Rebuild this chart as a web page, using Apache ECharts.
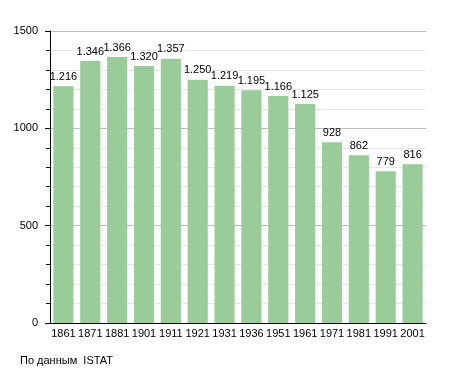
<!DOCTYPE html>
<html><head><meta charset="utf-8">
<script src="https://cdn.jsdelivr.net/npm/echarts@6/dist/echarts.min.js"></script>
<style>html,body{margin:0;padding:0;background:#fff}#c{width:455px;height:373px}</style>
</head><body><div id="c"></div>
<script>
const categories = ['1861','1871','1881','1901','1911','1921','1931','1936','1951','1961','1971','1981','1991','2001'];
const population = [1216,1346,1366,1320,1357,1250,1219,1195,1166,1125,928,862,779,816];
const yTicks = [0,500,1000,1500];
const fmt = v => { const s = String(v); return s.length > 3 ? s.slice(0, s.length-3) + '.' + s.slice(-3) : s; };
const chart = echarts.init(document.getElementById('c'));
chart.setOption({
  animation: false,
  textStyle: {fontFamily: 'Liberation Sans, Arial, sans-serif'},
  grid: {left: 50, right: 29, top: 31, bottom: 50},
  xAxis: {
    type: 'category', data: categories,
    axisLine: {lineStyle: {color: '#000', width: 1}},
    axisTick: {show: false},
    axisLabel: {color: '#000', fontSize: 11, margin: 5, interval: 0}
  },
  yAxis: {
    type: 'value', min: yTicks[0], max: yTicks[yTicks.length-1], interval: 500,
    axisLine: {show: true, lineStyle: {color: '#000', width: 1}},
    axisTick: {show: true, length: 5, lineStyle: {color: '#000'}},
    minorTick: {show: true, splitNumber: 5, length: 4, lineStyle: {color: '#000'}},
    splitLine: {lineStyle: {color: '#bbb', width: 1}},
    minorSplitLine: {show: true, lineStyle: {color: '#e6e6e6', width: 1}},
    axisLabel: {color: '#000', fontSize: 11, margin: 12, formatter: v => String(v)}
  },
  series: [{
    type: 'bar', data: population, barCategoryGap: '25%',
    itemStyle: {color: '#99cc99'},
    label: {show: true, position: 'top', color: '#000', fontSize: 11, distance: 4, formatter: p => fmt(p.value)}
  }],
  graphic: [{type: 'text', left: 20, top: 355, style: {text: 'По данным  ISTAT', fill: '#000', font: '11px Liberation Sans, Arial, sans-serif'}}]
});
</script></body></html>
